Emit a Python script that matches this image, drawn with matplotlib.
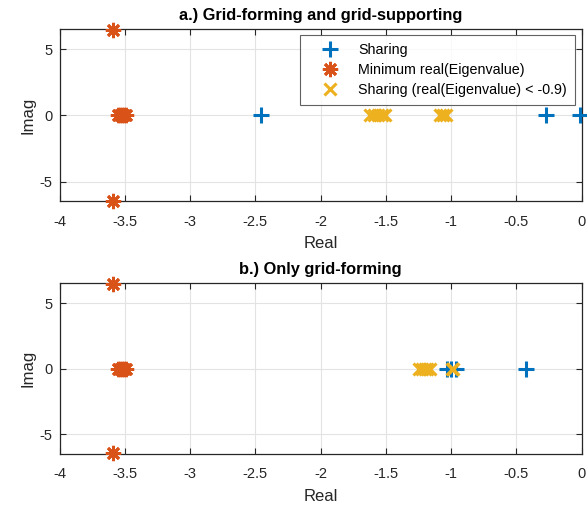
import matplotlib.pyplot as plt

plt.rcParams['font.family'] = ['Liberation Sans', 'DejaVu Sans']

# panel a.) grid-forming and grid-supporting
a_share_re = [-2.458, -0.273, -0.01]
a_min_re = [-3.587, -3.553, -3.535, -3.52, -3.505, -3.49, -3.587]
a_min_im = [6.45, 0, 0, 0, 0, 0, -6.45]
a_low_re = [-1.62, -1.59, -1.56, -1.53, -1.51, -1.085, -1.06, -1.04]

# panel b.) only grid-forming
b_share_re = [-1.035, -1.0, -0.965, -0.429]
b_min_re = [-3.587, -3.553, -3.535, -3.52, -3.505, -3.49, -3.587]
b_min_im = [6.45, 0, 0, 0, 0, 0, -6.45]
b_low_re = [-1.248, -1.225, -1.2, -1.185, -1.164, -0.995, -0.985]

blue = '#0072BD'
orange = '#D95319'
yellow = '#EDB120'
aster = (8, 2, 0)

fig = plt.figure(figsize=(5.87, 5.07), dpi=100)
ax1 = fig.add_axes([0.1014, 0.6026, 0.8896, 0.3393])
ax2 = fig.add_axes([0.1014, 0.1045, 0.8896, 0.3367])

panels = [
    (ax1, a_share_re, a_min_re, a_min_im, a_low_re, 'a.) Grid-forming and grid-supporting'),
    (ax2, b_share_re, b_min_re, b_min_im, b_low_re, 'b.) Only grid-forming'),
]

for ax, sh, mre, mim, low, title in panels:
    ax.plot(sh, [0] * len(sh), ls='none', marker='+', ms=12, mew=2.2,
            color=blue, clip_on=False, label='Sharing', zorder=3)
    ax.plot(mre, mim, ls='none', marker=aster, ms=11, mew=2.0,
            color=orange, clip_on=False, label='Minimum real(Eigenvalue)', zorder=4)
    ax.plot(low, [0] * len(low), ls='none', marker='x', ms=9, mew=2.2,
            color=yellow, clip_on=False,
            label='Sharing (real(Eigenvalue) < -0.9)', zorder=5)

    ax.set_xlim(-4, 0)
    ax.set_ylim(-6.5, 6.5)
    ax.set_xticks([-4, -3.5, -3, -2.5, -2, -1.5, -1, -0.5, 0])
    ax.set_xticklabels(['-4', '-3.5', '-3', '-2.5', '-2', '-1.5', '-1', '-0.5', '0'])
    ax.set_yticks([-5, 0, 5])
    ax.set_yticklabels(['-5', '0', '5'])
    ax.grid(True, color='#e3e3e3', lw=0.8)
    ax.set_axisbelow(True)
    ax.tick_params(direction='in', length=4, width=0.8, labelsize=10.5,
                   top=True, right=True, colors='#262626')
    ax.tick_params(axis='x', pad=9.5)
    ax.tick_params(axis='y', pad=5)
    for s in ax.spines.values():
        s.set_color('#262626')
        s.set_linewidth(0.9)
    ax.set_xlabel('Real', fontsize=12, color='#262626', labelpad=5.5)
    ax.set_ylabel('Imag', fontsize=12, color='#262626', labelpad=3)
    ax.set_title(title, fontsize=11.8, fontweight='bold', pad=7)

leg = ax1.legend(loc='upper right', bbox_to_anchor=(575 / 587, 1 - 35 / 507),
                 bbox_transform=fig.transFigure, fontsize=10.3,
                 frameon=True, fancybox=False, edgecolor='#3a3a3a',
                 handlelength=3.2, handletextpad=0.35, borderpad=0.55,
                 labelspacing=0.44, borderaxespad=0)
leg.get_frame().set_linewidth(0.8)
leg.set_zorder(10)

plt.savefig('out.png', dpi=100)
plt.close()
